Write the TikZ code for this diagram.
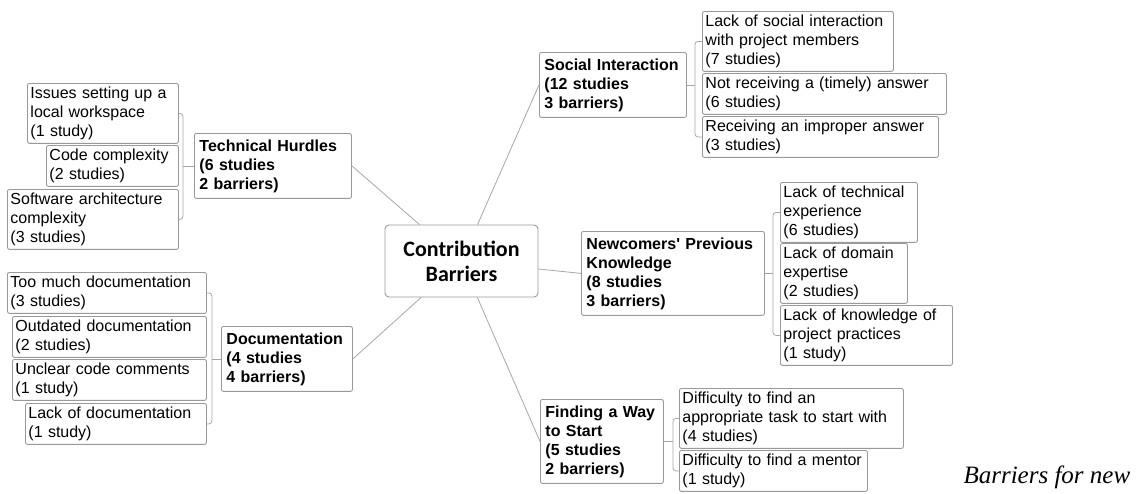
\documentclass[tikz,border=0pt]{standalone}
\usepackage{fontspec}
\setmainfont{Liberation Sans}
\newfontfamily\hubfont{Carlito}
\newfontfamily\capfont{Liberation Serif}
\usepackage{xcolor}
\usepackage{tikz}
\usetikzlibrary{
    positioning,
    calc
}
\tikzset{
    barrier/.style={
        draw=black!40,
        rounded corners=2pt,
        line width=0.9pt,
        anchor=north west,
        align=left,
        inner xsep=3pt,
        inner ysep=3.5pt,
        font=\fontsize{16}{19}\selectfont
    }
}
\tikzset{
    category/.style={
        draw=black!40,
        rounded corners=2pt,
        line width=0.9pt,
        anchor=north west,
        align=left,
        inner xsep=5pt,
        inner ysep=6pt,
        font=\fontsize{16}{19}\selectfont\bfseries
    }
}
\tikzset{
    hub/.style={
        draw=black!40,
        rounded corners=4pt,
        line width=0.9pt,
        align=center,
        minimum width=153pt,
        minimum height=72pt,
        font=\hubfont\fontsize{22}{25}\selectfont\bfseries
    }
}
\tikzset{
    spoke/.style={
        draw=black!35,
        line width=0.8pt
    }
}
\tikzset{
    bracket/.style={
        draw=black!35,
        line width=0.8pt,
        rounded corners=3pt
    }
}
\tikzset{
    caption/.style={
        font=\capfont\itshape\fontsize{25}{30}\selectfont
    }
}

\begin{document}
\begin{tikzpicture}

\useasboundingbox (0pt,0pt) rectangle (1141pt,-493pt);

% ------------------------------------------------------------
% Centre
% ------------------------------------------------------------

\node[hub] (hub) at (461.5pt,-261pt) {Contribution\\Barriers};

% ------------------------------------------------------------
% Technical hurdles
% ------------------------------------------------------------

\node[category, text width=147pt] (techh) at (194pt,-133pt)
    {Technical Hurdles\\(6 studies\\2 barriers)};
\node[barrier, text width=145pt] (issues) at (27pt,-83pt)
    {Issues setting up a\\local workspace\\(1 study)};
\node[barrier, text width=126pt] (codec) at (46pt,-145pt)
    {Code complexity\\(2 studies)};
\node[barrier, text width=165pt] (archc) at (7pt,-189pt)
    {Software architecture\\complexity\\(3 studies)};
\draw[bracket] (issues.east) -- ++(4pt,0) coordinate (tb) |- (archc.east);
\draw[spoke] (techh.west) -- (techh.west -| tb);

% ------------------------------------------------------------
% Documentation
% ------------------------------------------------------------

\node[category, text width=121pt] (docu) at (221pt,-326pt)
    {Documentation\\(4 studies\\4 barriers)};
\node[barrier, text width=193pt] (toomuch) at (7pt,-272pt)
    {Too much documentation\\(3 studies)};
\node[barrier, text width=188pt] (outdated) at (12pt,-316pt)
    {Outdated documentation\\(2 studies)};
\node[barrier, text width=188pt] (unclear) at (12pt,-359pt)
    {Unclear code comments\\(1 study)};
\node[barrier, text width=175pt] (lackdoc) at (25pt,-403pt)
    {Lack of documentation\\(1 study)};
\draw[bracket] (toomuch.east) -- ++(5pt,0) coordinate (db) |- (lackdoc.east);
\draw[spoke] (docu.west) -- (docu.west -| db);

% ------------------------------------------------------------
% Social interaction
% ------------------------------------------------------------

\node[category, text width=137pt] (social) at (539pt,-52pt)
    {Social Interaction\\(12 studies\\3 barriers)};
\node[barrier, text width=185pt] (lacksoc) at (702pt,-11pt)
    {Lack of social interaction\\with project members\\(7 studies)};
\node[barrier, text width=238pt] (noanswer) at (702pt,-73pt)
    {Not receiving a (timely) answer\\(6 studies)};
\node[barrier, text width=230pt] (improper) at (702pt,-116pt)
    {Receiving an improper answer\\(3 studies)};
\draw[bracket] (lacksoc.west) -- ++(-7pt,0) coordinate (sb) |- (improper.west);
\draw[spoke] (social.east) -- (social.east -| sb);

% ------------------------------------------------------------
% Previous knowledge
% ------------------------------------------------------------

\node[category, text width=173pt] (prevk) at (581pt,-231pt)
    {Newcomers\textquotesingle{} Previous\\Knowledge\\(8 studies\\3 barriers)};
\node[barrier, text width=131pt] (techexp) at (780pt,-182pt)
    {Lack of technical\\experience\\(6 studies)};
\node[barrier, text width=121pt] (domain) at (780pt,-243pt)
    {Lack of domain\\expertise\\(2 studies)};
\node[barrier, text width=166pt] (practices) at (780pt,-305pt)
    {Lack of knowledge of\\project practices\\(1 study)};
\draw[bracket] (techexp.west) -- ++(-7pt,0) coordinate (pb) |- (practices.west);
\draw[spoke] (prevk.east) -- (prevk.east -| pb);

% ------------------------------------------------------------
% Finding a way to start
% ------------------------------------------------------------

\node[category, text width=113pt] (findway) at (540pt,-399pt)
    {Finding a Way\\to Start\\(5 studies\\2 barriers)};
\node[barrier, text width=218pt] (task) at (679pt,-388pt)
    {Difficulty to find an\\appropriate task to start with\\(4 studies)};
\node[barrier, text width=182pt] (mentor) at (679pt,-450pt)
    {Difficulty to find a mentor\\(1 study)};
\draw[bracket] (task.west) -- ++(-6pt,0) coordinate (fb) |- (mentor.west);
\draw[spoke] (findway.east) -- (findway.east -| fb);

% ------------------------------------------------------------
% Spokes from the centre
% ------------------------------------------------------------

\draw[spoke] (hub) -- (techh.east);
\draw[spoke] (hub) -- (docu.east);
\draw[spoke] (hub) -- (social.west);
\draw[spoke] (hub) -- (prevk.west);
\draw[spoke] (hub) -- (findway.west);

\node[caption, anchor=base west] (capt) at (960pt,-483pt) {Barriers for new};

\end{tikzpicture}
\end{document}
